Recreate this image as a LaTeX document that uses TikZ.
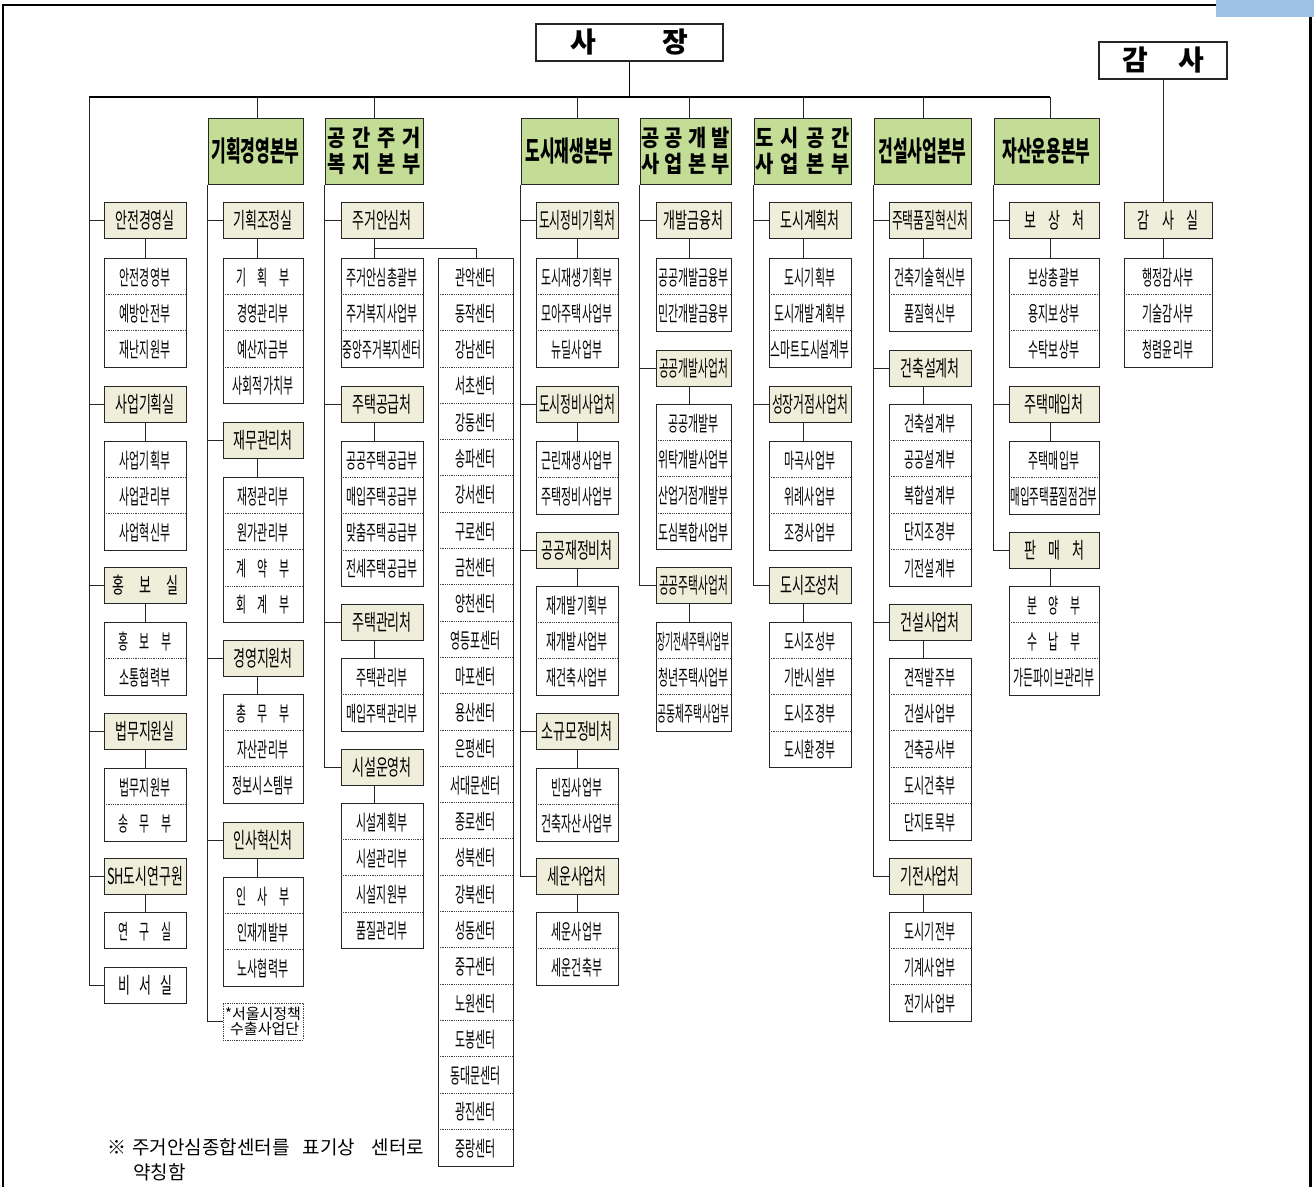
\documentclass[tikz,border=0pt]{standalone}
\usepackage{fontspec}
\usepackage{graphicx}
\setmainfont{Noto Sans CJK KR}
\newfontfamily\krc[FakeStretch=0.52]{Noto Sans CJK KR}
\newfontfamily\krt[FakeStretch=0.59]{Noto Sans CJK KR}
\newfontfamily\krh[FakeStretch=0.57]{Noto Sans CJK KR}
\newfontfamily\krw[FakeStretch=0.86]{Noto Sans CJK KR}
\newfontfamily\krf{Noto Sans CJK KR}
\definecolor{bgreen}{RGB}{196,221,150}
\definecolor{bbeige}{RGB}{238,238,218}
\definecolor{bluebar}{RGB}{157,193,228}
\newcommand\fitto[2]{\sbox0{#2}\ifdim\wd0>#1pt\relax\resizebox{#1pt}{\height}{\usebox0}\else\usebox0\fi}
\newcommand\SP[2]{\makebox[#1pt]{#2}}
\tikzset{
  bonbu/.style={draw=black!85, fill=bgreen, line width=1pt, minimum height=66, inner sep=0, align=center,
    font={\krh\bfseries\fontsize{28}{28}\selectfont}},
  bonbutwo/.style={bonbu, font={\krw\bfseries\fontsize{23}{26}\selectfont}},
  chbox/.style={draw=black!85, fill=bbeige, line width=1pt, minimum height=36, inner sep=0,
    font={\krt\fontsize{22}{22}\selectfont}},
  listbox/.style={draw=black!85, fill=white, line width=1pt, inner sep=0},
  item/.style={inner sep=0, font={\krc\fontsize{21}{21}\selectfont}},
  sepline/.style={densely dotted, black!75, line width=0.8pt},
  conn/.style={draw=black!85, line width=1pt},
  mainln/.style={draw=black, line width=1.3pt},
  topbox/.style={draw=black!85, fill=white, line width=1.2pt, inner sep=0, minimum height=37,
    font={\krf\bfseries\fontsize{28}{28}\selectfont}},
}
\newcommand\HQ[5][bonbu]{\node[#1, minimum width={#4-#3}] (#2) at ({(#3+#4)/2},151) {#5};}
\newcommand\CB[6][]{\pgfmathsetmacro\fw{#4-#3-6}%
  \node[chbox,#1,minimum width={#4-#3}] (#2) at ({(#3+#4)/2},{#5+18}) {\fitto{\fw}{#6}};}
\newcommand\DL[6]{\pgfmathsetmacro\fw{#3-#2-3}%
  \node[listbox,minimum width={#3-#2},minimum height={#5*36.3},anchor=north west] (#1) at (#2,#4) {};
  \foreach \t [count=\i] in {#6}{
    \node[item] (#1-\i) at ({(#2+#3)/2},{#4+(\i-0.5)*36.3+1}) {\fitto{\fw}{\t}};
    \ifnum\i<#5\relax \draw[sepline] (#2,{#4+\i*36.3}) -- (#3,{#4+\i*36.3});\fi
  }}
\begin{document}
\begin{tikzpicture}[x=1pt,y=-1pt]
\useasboundingbox (0,0) rectangle (1314,1187);
% frame
\draw[line width=1.4pt] (3,1187) -- (3,5) -- (1216,5);
\fill[bluebar] (1216,0) rectangle (1314,17);
\draw[line width=3pt] (1310.5,17) -- (1310.5,1187);

% top boxes
\node[topbox, minimum width=187] (sj) at (629.5,42.5) {\SP{118}{사\hfill 장}};
\node[topbox, minimum width=128] (gs) at (1163,60.5) {\SP{82}{감\hfill 사}};

% reference coordinates
\coordinate (hl) at (89,97);
\coordinate (hr) at (1050,97);
\coordinate (kA) at (145,97);
\coordinate (kB) at (257,97);
\coordinate (kC) at (374,97);
\coordinate (kD) at (577,97);
\coordinate (kE) at (689,97);
\coordinate (kF) at (803,97);
\coordinate (kG) at (923,97);
\coordinate (kH) at (1050,97);
\coordinate (kI) at (1163,97);

% headquarters
\HQ{hq1}{208}{303}{기획경영본부}
\HQ[bonbutwo]{hq2}{325}{423}{\SP{93}{공\hfill 간\hfill 주\hfill 거}\\\SP{93}{복\hfill 지\hfill 본\hfill 부}}
\HQ{hq3}{521}{618}{도시재생본부}
\HQ[bonbutwo]{hq4}{640}{731}{\SP{88}{공\hfill 공\hfill 개\hfill 발}\\\SP{88}{사\hfill 업\hfill 본\hfill 부}}
\HQ[bonbutwo]{hq5}{754}{851}{\SP{95}{도\hfill 시\hfill 공\hfill 간}\\\SP{95}{사\hfill 업\hfill 본\hfill 부}}
\HQ{hq6}{874}{971}{건설사업본부}
\HQ{hq7}{994}{1099}{자산운용본부}

% column A
\CB{a1}{104}{186}{202}{안전경영실}
\DL{la1}{104}{186}{258}{3}{안전경영부,예방안전부,재난지원부}
\CB{a2}{104}{186}{386}{사업기획실}
\DL{la2}{104}{186}{441}{3}{사업기획부,사업관리부,사업혁신부}
\CB{a3}{104}{186}{567}{\SP{66}{홍\hfill 보\hfill 실}}
\DL{la3}{104}{186}{622}{2}{{\SP{54}{홍\hfill 보\hfill 부}},소통협력부}
\CB{a4}{104}{186}{713}{법무지원실}
\DL{la4}{104}{186}{768}{2}{법무지원부,{\SP{54}{송\hfill 무\hfill 부}}}
\CB{a5}{104}{186}{858}{SH도시연구원}
\DL{la5}{104}{186}{912}{1}{{\SP{54}{연\hfill 구\hfill 실}}}
\CB[fill=white]{a6}{104}{186}{967}{\SP{54}{비\hfill 서\hfill 실}}

% column B
\CB{b1}{223}{303}{202}{기획조정실}
\DL{lb1}{223}{303}{258}{4}{{\SP{54}{기\hfill 획\hfill 부}},경영관리부,예산자금부,사회적가치부}
\CB{b2}{223}{303}{422}{재무관리처}
\DL{lb2}{223}{303}{477}{4}{재정관리부,원가관리부,{\SP{54}{계\hfill 약\hfill 부}},{\SP{54}{회\hfill 계\hfill 부}}}
\CB{b3}{223}{303}{640}{경영지원처}
\DL{lb3}{223}{303}{694}{3}{{\SP{54}{총\hfill 무\hfill 부}},자산관리부,정보시스템부}
\CB{b4}{223}{303}{822}{인사혁신처}
\DL{lb4}{223}{303}{877}{3}{{\SP{54}{인\hfill 사\hfill 부}},인재개발부,노사협력부}
\node[draw=black!75, densely dotted, line width=0.8pt, minimum width=80, minimum height=37, inner sep=0,
  align=center, font={\krf\fontsize{15}{13.5}\selectfont}] (b5) at (263,1021.5) {*서울시정책\\\ 수출사업단};

% column C
\CB{c1}{341}{423}{202}{주거안심처}
\DL{lc1}{341}{423}{258}{3}{주거안심총괄부,주거복지사업부,중앙주거복지센터}
\DL{lcc}{438}{513}{258}{25}{관악센터,동작센터,강남센터,서초센터,강동센터,송파센터,강서센터,구로센터,금천센터,양천센터,영등포센터,마포센터,용산센터,은평센터,서대문센터,종로센터,성북센터,강북센터,성동센터,중구센터,노원센터,도봉센터,동대문센터,광진센터,중랑센터}
\CB{c2}{341}{423}{386}{주택공급처}
\DL{lc2}{341}{423}{441}{4}{공공주택공급부,매입주택공급부,맞춤주택공급부,전세주택공급부}
\CB{c3}{341}{423}{604}{주택관리처}
\DL{lc3}{341}{423}{658}{2}{주택관리부,매입주택관리부}
\CB{c4}{341}{423}{749}{시설운영처}
\DL{lc4}{341}{423}{803}{4}{시설계획부,시설관리부,시설지원부,품질관리부}

% column D
\CB{d1}{536}{618}{202}{도시정비기획처}
\DL{ld1}{536}{618}{258}{3}{도시재생기획부,모아주택사업부,뉴딜사업부}
\CB{d2}{536}{618}{386}{도시정비사업처}
\DL{ld2}{536}{618}{441}{2}{근린재생사업부,주택정비사업부}
\CB{d3}{536}{618}{532}{공공재정비처}
\DL{ld3}{536}{618}{586}{3}{재개발기획부,재개발사업부,재건축사업부}
\CB{d4}{536}{618}{713}{소규모정비처}
\DL{ld4}{536}{618}{768}{2}{빈집사업부,건축자산사업부}
\CB{d5}{536}{618}{858}{세운사업처}
\DL{ld5}{536}{618}{912}{2}{세운사업부,세운건축부}

% column E
\CB{e1}{656}{731}{202}{개발금융처}
\DL{le1}{656}{731}{258}{2}{공공개발금융부,민간개발금융부}
\CB{e2}{656}{731}{350}{공공개발사업처}
\DL{le2}{656}{731}{404}{4}{공공개발부,위탁개발사업부,산업거점개발부,도심복합사업부}
\CB{e3}{656}{731}{567}{공공주택사업처}
\DL{le3}{656}{731}{622}{3}{장기전세주택사업부,청년주택사업부,공동체주택사업부}

% column F
\CB{f1}{769}{851}{202}{도시계획처}
\DL{lf1}{769}{851}{258}{3}{도시기획부,도시개발계획부,스마트도시설계부}
\CB{f2}{769}{851}{386}{성장거점사업처}
\DL{lf2}{769}{851}{441}{3}{마곡사업부,위례사업부,조경사업부}
\CB{f3}{769}{851}{567}{도시조성처}
\DL{lf3}{769}{851}{622}{4}{도시조성부,기반시설부,도시조경부,도시환경부}

% column G
\CB{g1}{889}{971}{202}{주택품질혁신처}
\DL{lg1}{889}{971}{258}{2}{건축기술혁신부,품질혁신부}
\CB{g2}{889}{971}{350}{건축설계처}
\DL{lg2}{889}{971}{404}{5}{건축설계부,공공설계부,복합설계부,단지조경부,기전설계부}
\CB{g3}{889}{971}{604}{건설사업처}
\DL{lg3}{889}{971}{658}{5}{견적발주부,건설사업부,건축공사부,도시건축부,단지토목부}
\CB{g4}{889}{971}{858}{기전사업처}
\DL{lg4}{889}{971}{912}{3}{도시기전부,기계사업부,전기사업부}

% column H
\CB{h1}{1009}{1099}{202}{\SP{60}{보\hfill 상\hfill 처}}
\DL{lh1}{1009}{1099}{258}{3}{보상총괄부,용지보상부,수탁보상부}
\CB{h2}{1009}{1099}{386}{주택매입처}
\DL{lh2}{1009}{1099}{441}{2}{주택매입부,매입주택품질점검부}
\CB{h3}{1009}{1099}{532}{\SP{60}{판\hfill 매\hfill 처}}
\DL{lh3}{1009}{1099}{586}{3}{{\SP{54}{분\hfill 양\hfill 부}},{\SP{54}{수\hfill 납\hfill 부}},가든파이브관리부}

% column I
\CB{i1}{1124}{1212}{202}{\SP{61}{감\hfill 사\hfill 실}}
\DL{li1}{1124}{1212}{258}{3}{행정감사부,기술감사부,청렴윤리부}

% main connectors
\draw[mainln] (hl) -- (hr);
\draw[mainln] (sj.south) -- (sj.south |- hl);
\foreach \k/\h in {kB/hq1,kC/hq2,kD/hq3,kE/hq4,kF/hq5,kG/hq6,kH/hq7}
  \draw[conn] (\k) -- (\k |- \h.north);
\draw[conn] (gs.south) -- (i1.north -| gs.south);

% spines and branches
\draw[conn] (hl) |- (a6.west);
\foreach \n in {a1,a2,a3,a4,a5} \draw[conn] (hl |- \n.west) -- (\n.west);
\draw[conn] (hq1.south west) |- (b5.west);
\foreach \n in {b1,b2,b3,b4} \draw[conn] (hq1.south west |- \n.west) -- (\n.west);
\draw[conn] (hq2.south west) |- (c4.west);
\foreach \n in {c1,c2,c3} \draw[conn] (hq2.south west |- \n.west) -- (\n.west);
\draw[conn] (hq3.south west) |- (d5.west);
\foreach \n in {d1,d2,d3,d4} \draw[conn] (hq3.south west |- \n.west) -- (\n.west);
\draw[conn] (hq4.south west) |- (e3.west);
\foreach \n in {e1,e2} \draw[conn] (hq4.south west |- \n.west) -- (\n.west);
\draw[conn] (hq5.south west) |- (f3.west);
\foreach \n in {f1,f2} \draw[conn] (hq5.south west |- \n.west) -- (\n.west);
\draw[conn] (hq6.south west) |- (g4.west);
\foreach \n in {g1,g2,g3} \draw[conn] (hq6.south west |- \n.west) -- (\n.west);
\draw[conn] (hq7.south west) |- (h3.west);
\foreach \n in {h1,h2} \draw[conn] (hq7.south west |- \n.west) -- (\n.west);

% box to list connectors
\foreach \k/\b/\l in {kA/a1/la1,kA/a2/la2,kA/a3/la3,kA/a4/la4,kA/a5/la5,
  kB/b1/lb1,kB/b2/lb2,kB/b3/lb3,kB/b4/lb4,
  kC/c1/lc1,kC/c2/lc2,kC/c3/lc3,kC/c4/lc4,
  kD/d1/ld1,kD/d2/ld2,kD/d3/ld3,kD/d4/ld4,kD/d5/ld5,
  kE/e1/le1,kE/e2/le2,kE/e3/le3,
  kF/f1/lf1,kF/f2/lf2,kF/f3/lf3,
  kG/g1/lg1,kG/g2/lg2,kG/g3/lg3,kG/g4/lg4,
  kH/h1/lh1,kH/h2/lh2,kH/h3/lh3,kI/i1/li1}
  \draw[conn] (\b.south -| \k) -- (\l.north -| \k);
\draw[conn] (lcc.north) -- ++(0,-10) -| (c1.south -| kC);

% footnote
\node[anchor=west, inner sep=0, font={\krf\fontsize{19}{22}\selectfont}] (fn1) at (107,1147)
  {※\hspace{6pt}주거안심종합센터를\hspace{13pt}표기상\hspace{17pt}센터로};
\node[anchor=west, inner sep=0, font={\krf\fontsize{19}{22}\selectfont}] (fn2) at (133,1172) {약칭함};
\end{tikzpicture}
\end{document}
